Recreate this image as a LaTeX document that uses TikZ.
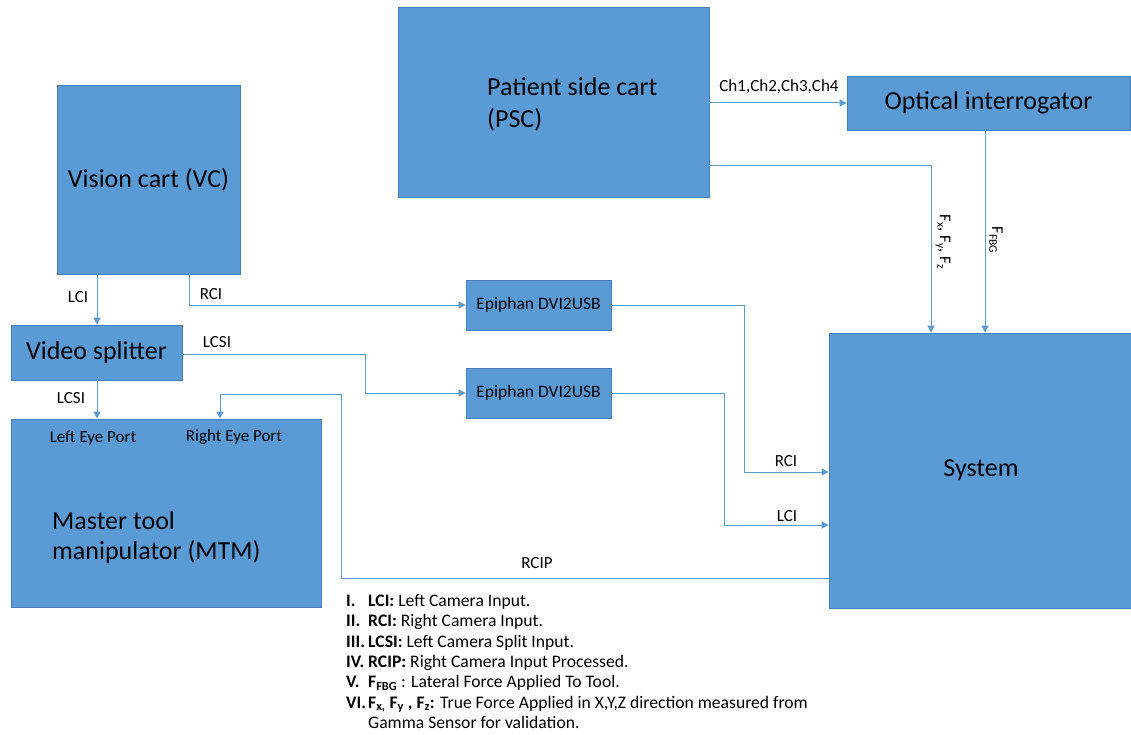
\documentclass[tikz,border=0pt]{standalone}
\usepackage{fontspec}
\setmainfont{Carlito}
\usetikzlibrary{arrows.meta}
\definecolor{boxfill}{HTML}{5B9BD5}
\definecolor{boxline}{HTML}{4A7EBB}
\definecolor{wire}{HTML}{5B9BD5}
\tikzset{
  blockbox/.style={draw=boxline,fill=boxfill,line width=0.8pt,inner sep=0pt,
    font=\fontsize{26}{32}\selectfont},
  wirearr/.style={draw=wire,line width=1pt,-{Triangle[length=7pt,width=7pt]}},
  wirelbl/.style={inner sep=0pt,font=\fontsize{17}{20}\selectfont},
  smallbox/.style={blockbox,font=\fontsize{17.5}{20}\selectfont},
  legendline/.style={anchor=base west,inner sep=0pt,font=\fontsize{17.6}{20}\selectfont},
}
\newcommand{\lnum}[1]{\makebox[22pt][l]{\textbf{#1}}}
\begin{document}
\begin{tikzpicture}[x=1pt,y=-1pt]
\useasboundingbox (0,0) rectangle (1131,735);
% blocks
\node[blockbox,minimum width=311pt,minimum height=190pt] (psc) at (553.5,102) {};
\node[anchor=west,inner sep=0pt,align=left,font=\fontsize{26}{32}\selectfont] (psclbl) at (487,104) {Patient side cart\\(PSC)};
\node[blockbox,minimum width=283pt,minimum height=54pt] (optical) at (988.5,103) {Optical interrogator};
\node[blockbox,minimum width=183pt,minimum height=189pt] (vc) at (148.5,179.5) {Vision cart (VC)};
\node[blockbox,minimum width=171pt,minimum height=55pt] (splitter) at (96.5,352.5) {Video splitter};
\node[blockbox,minimum width=310pt,minimum height=188pt] (mtm) at (166,513) {};
\node[wirelbl] (leftport) at (93,438) {Left Eye Port};
\node[wirelbl] (rightport) at (234,437) {Right Eye Port};
\node[anchor=west,inner sep=0pt,align=left,font=\fontsize{26}{30}\selectfont] (mtmlbl) at (52,538) {Master tool\\manipulator (MTM)};
\node[smallbox,minimum width=145pt,minimum height=50pt] (epi1) at (538.5,305) {Epiphan DVI2USB};
\node[smallbox,minimum width=145pt,minimum height=50pt] (epi2) at (538.5,393) {Epiphan DVI2USB};
\node[blockbox,minimum width=304pt,minimum height=275pt] (system) at (981,470.5) {System};
% connectors
\draw[wirearr] (optical.west -| psc.east) -- (optical.west);
\draw[wirearr] (psc.east |- 0,166) -| (931,0 |- system.north);
\draw[wirearr] (985,0 |- optical.south) -- (985,0 |- system.north);
\draw[wirearr] (97,0 |- vc.south) -- (97,0 |- splitter.north);
\draw[wirearr] (189,0 |- vc.south) |- (epi1.west);
\draw[wirearr] (splitter.east |- 0,354) -- (365,354) |- (epi2.west);
\draw[wirearr] (97,0 |- splitter.south) -- (97,0 |- mtm.north);
\draw[wirearr] (epi1.east) -- (744,0 |- epi1.east) |- (system.west |- 0,472);
\draw[wirearr] (epi2.east) -- (724,0 |- epi2.east) |- (system.west |- 0,525);
\draw[wirearr] (system.west |- 0,578) -| (341,394) -| (220,0 |- mtm.north);
% connector labels
\node[wirelbl] (lch) at (779,87) {Ch1,Ch2,Ch3,Ch4};
\node[wirelbl] (llci1) at (78,297) {LCI};
\node[wirelbl] (lrci1) at (211,294) {RCI};
\node[wirelbl] (llcsi1) at (217,342) {LCSI};
\node[wirelbl] (llcsi2) at (71,398) {LCSI};
\node[wirelbl] (lrci2) at (786,461) {RCI};
\node[wirelbl] (llci2) at (787,516) {LCI};
\node[wirelbl] (lrcip) at (537,563) {RCIP};
\node[wirelbl,rotate=-90,font=\fontsize{16.5}{18}\selectfont] (lfxyz) at (943,242) {F\textsubscript{x}, F\textsubscript{y}, F\textsubscript{z}};
\node[wirelbl,rotate=-90,font=\fontsize{16.5}{18}\selectfont] (lfbg) at (996,240) {F\textsubscript{FBG}};
% legend
\node[legendline] (leg1) at (346,606) {\lnum{I.}\textbf{LCI:} Left Camera Input.};
\node[legendline] (leg2) at (346,626.5) {\lnum{II.}\textbf{RCI:} Right Camera Input.};
\node[legendline] (leg3) at (346,647) {\lnum{III.}\textbf{LCSI:} Left Camera Split Input.};
\node[legendline] (leg4) at (346,667) {\lnum{IV.}\textbf{RCIP:} Right Camera Input Processed.};
\node[legendline] (leg5) at (346,687.5) {\lnum{V.}\textbf{F\textsubscript{FBG}} : Lateral Force Applied To Tool.};
\node[legendline] (leg6) at (346,708) {\lnum{VI.}\textbf{F\textsubscript{x,} F\textsubscript{y} , F\textsubscript{z}:} True Force Applied in X,Y,Z direction measured from};
\node[legendline] (leg7) at (368,728) {Gamma Sensor for validation.};
\end{tikzpicture}
\end{document}
